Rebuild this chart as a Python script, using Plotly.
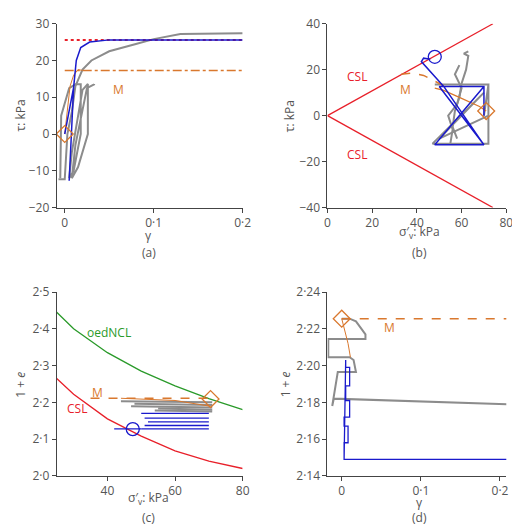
import plotly.graph_objects as go

GRAY = "#8c8c8c"; BLUE = "#1a1acc"; RED = "#e8202a"; ORANGE = "#d9782e"; GREEN = "#2a9a2a"; TXT = "#555555"

# (a) tau vs gamma
a_blue_g = [0.0, 0.01, 0.005, 0.01, 0.005, 0.01, 0.005, 0.01, 0.005, 0.01, 0.013, 0.018, 0.028, 0.05, 0.2]
a_blue_t = [0.0, 12.7, -12.7, 12.7, -12.7, 12.7, -12.7, 12.7, -12.7, 12.7, 20.0, 23.5, 25.0, 25.6, 25.6]
a_gray_g = [-0.005, -0.004, 0.005, 0.012, 0.018, 0.018, 0.01, 0.005, 0.008, 0.02, 0.026, 0.026, 0.015, 0.008, 0.012, 0.025, 0.033, 0.033, None,
            -0.007, 0.0, 0.003, 0.008, 0.012, 0.02, 0.03, 0.05, 0.08, 0.1, 0.13, 0.16, 0.2]
a_gray_t = [-12.0, 5.0, 12.5, 13.5, 13.5, 0.0, -10.0, -12.0, -5.0, 12.0, 13.6, 0.0, -9.0, -12.0, -3.0, 12.5, 13.5, 13.6, None,
            -12.3, -12.3, 0.0, 6.0, 13.0, 17.5, 20.0, 22.5, 24.5, 25.8, 27.2, 27.3, 27.4]
a_csl_g = [0.0, 0.2]; a_csl_t = [25.6, 25.6]
a_m_g = [0.0, 0.2]; a_m_t = [17.3, 17.3]
a_or_g = [0.0, 0.003, 0.006, 0.01, 0.015, 0.02]; a_or_t = [0.0, 6.0, 13.0, 16.0, 17.5, 17.3]

# (b) tau vs sigma'v
b_csl_s = [0.0, 74.0]; b_csl_t = [0.0, 40.0]
b_cslm_s = [0.0, 74.0]; b_cslm_t = [0.0, -40.0]
b_blue_s = [70, 70, 50, 70, 70, 48, 70, 48, 70, 70, 52, 70, 52, 48, 45, 42, 43, 46]
b_blue_t = [0, 12.7, 12.7, -12.7, -12.7, -12.7, 12.7, -12.7, 12.7, 12.7, 12.7, -12.7, 12.7, 17, 20.5, 23.5, 25, 24.5]
b_gray_s = [70, 72, 48, 72, 72, 47, 70, 50, 72, None, 58, 56, 57, 59, 60, 62, 63, 61, 63, None, 55, 56, 54, 58, 60, 57, 59]
b_gray_t = [0, 13.5, 13.5, 13.5, -12.2, -12.2, 10, -10, 0, None, -10, -5, 2, 8, 14, 20, 26, 27, 28, None, -12, -6, 0, 5, 12, 18, 22]
b_or_s = [71, 68, 60, 52, 48]; b_or_t = [2, 4, 7.5, 11, 12]
b_m_s = [33, 38, 43, 48, 52]; b_m_t = [18, 18.5, 17.5, 15, 13]

# (c) 1+e vs sigma'v
c_sig = [25, 30, 40, 50, 60, 70, 80]
c_ncl = [2.445, 2.400, 2.335, 2.285, 2.245, 2.210, 2.180]
c_csl = [2.265, 2.222, 2.155, 2.108, 2.068, 2.040, 2.020]
c_blue_lv = [2.170, 2.157, 2.147, 2.137, 2.128]
c_blue_x0 = [50, 51, 52, 51, 50]
c_gray_lv = [2.200, 2.193, 2.186, 2.180, 2.175]
c_gray_x0 = [44, 48, 47, 55, 54]
c_m_s = [35, 70]; c_m_e = [2.211, 2.211]

# (d) 1+e vs gamma
d_blue_g = [0.003, 0.003, 0.008, 0.008, 0.003, 0.003, 0.01, 0.01, 0.005, 0.005, 0.01, 0.01, 0.005, 0.005, 0.003, 0.21]
d_blue_e = [2.149, 2.158, 2.158, 2.167, 2.167, 2.172, 2.172, 2.181, 2.181, 2.189, 2.189, 2.199, 2.199, 2.203, 2.149, 2.149]
d_gray_g = [0.0, 0.01, 0.018, 0.03, 0.03, -0.017, -0.017, -0.01, 0.01, 0.015, 0.018, -0.005, -0.008, -0.012, -0.01, 0.21]
d_gray_e = [2.2255, 2.2255, 2.224, 2.217, 2.2145, 2.2145, 2.2045, 2.2045, 2.2045, 2.203, 2.1965, 2.1965, 2.188, 2.178, 2.182, 2.179]
d_m_g = [0.0, 0.21]; d_m_e = [2.2255, 2.2255]
d_or_g = [0.0, 0.008, 0.011]; d_or_e = [2.2255, 2.212, 2.2045]

fig = go.Figure()
def ln(x, y, ax, color, w=1.3, dash=None):
    fig.add_trace(go.Scatter(x=x, y=y, xaxis="x" + ax, yaxis="y" + ax, mode="lines",
                             line=dict(color=color, width=w, dash=dash), showlegend=False))
def mk(x, y, ax, color, sym, size):
    fig.add_trace(go.Scatter(x=x, y=y, xaxis="x" + ax, yaxis="y" + ax, mode="markers",
                             marker=dict(symbol=sym, size=size, color=color, line=dict(color=color, width=1.3)), showlegend=False))

ln(a_gray_g, a_gray_t, "1", GRAY, 2)
ln(a_csl_g, a_csl_t, "1", RED, 2, "dot")
ln(a_m_g, a_m_t, "1", ORANGE, 1.5, "dashdot")
ln(a_or_g, a_or_t, "1", ORANGE, 1)
ln(a_blue_g, a_blue_t, "1", BLUE, 1.5)
mk([0.0], [0.0], "1", ORANGE, "diamond-open", 13)

ln(b_csl_s, b_csl_t, "2", RED); ln(b_cslm_s, b_cslm_t, "2", RED)
ln(b_gray_s, b_gray_t, "2", GRAY, 2)
ln(b_m_s, b_m_t, "2", ORANGE, 1.5, "dash")
ln(b_or_s, b_or_t, "2", ORANGE, 1.2)
ln(b_blue_s, b_blue_t, "2", BLUE, 1.5)
mk([48], [25.6], "2", BLUE, "circle-open", 13)
mk([71], [2], "2", ORANGE, "diamond-open", 13)

ln(c_sig, c_ncl, "3", GREEN); ln(c_sig, c_csl, "3", RED)
for v, x0 in zip(c_gray_lv, c_gray_x0):
    ln([x0, 71], [v + 0.003, v], "3", GRAY, 2)
for v, x0 in zip(c_blue_lv, c_blue_x0):
    ln([x0, 70], [v, v], "3", BLUE, 1.3)
ln([42, 50], [2.128, 2.128], "3", BLUE, 1.3)
ln(c_m_s, c_m_e, "3", ORANGE, 1.5, "dash")
ln([44, 60, 70], [2.211, 2.205, 2.19], "3", ORANGE, 1)
mk([47.5], [2.127], "3", BLUE, "circle-open", 13)
mk([70.5], [2.209], "3", ORANGE, "diamond-open", 13)

ln(d_gray_g, d_gray_e, "4", GRAY, 2)
ln(d_blue_g, d_blue_e, "4", BLUE, 1.3)
ln(d_m_g, d_m_e, "4", ORANGE, 1.5, "dash")
ln(d_or_g, d_or_e, "4", ORANGE, 1)
mk([0.0], [2.2255], "4", ORANGE, "diamond-open", 13)

F = dict(family="Open Sans", size=12, color=TXT)
def axis(rng, dom, anchor, tickvals, ticktext):
    return dict(range=rng, domain=dom, anchor=anchor, showgrid=False, zeroline=False, showline=True,
                linecolor="#444", linewidth=1, ticks="outside", ticklen=4, tickcolor="#444",
                tickvals=tickvals, ticktext=ticktext, tickfont=F)
xa = [0.090, 0.456]; xb = [0.623, 0.975]
ya = [0.630, 0.987]; yc = [0.109, 0.466]
fig.update_layout(
    width=520, height=532, margin=dict(l=0, r=0, t=0, b=0), paper_bgcolor="white", plot_bgcolor="white",
    font=F,
    xaxis1=axis([-0.009, 0.2], xa, "y1", [0, 0.1, 0.2], ["0", "0·1", "0·2"]),
    yaxis1=axis([-20, 30], ya, "x1", [-20, -10, 0, 10, 20, 30], ["−20", "−10", "0", "10", "20", "30"]),
    xaxis2=axis([0, 80], xb, "y2", [0, 20, 40, 60, 80], None),
    yaxis2=axis([-40, 40], ya, "x2", [-40, -20, 0, 20, 40], ["−40", "−20", "0", "20", "40"]),
    xaxis3=axis([25, 80], xa, "y3", [40, 60, 80], None),
    yaxis3=axis([2.0, 2.5], yc, "x3", [2.0, 2.1, 2.2, 2.3, 2.4, 2.5], ["2·0", "2·1", "2·2", "2·3", "2·4", "2·5"]),
    xaxis4=axis([-0.018, 0.208], xb, "y4", [0, 0.1, 0.2], ["0", "0·1", "0·2"]),
    yaxis4=axis([2.14, 2.24], yc, "x4", [2.14, 2.16, 2.18, 2.20, 2.22, 2.24], ["2·14", "2·16", "2·18", "2·20", "2·22", "2·24"]),
)
ann = [("x1", "y1", 0.061, 12, "M", ORANGE), ("x2", "y2", 13, 17, "CSL", RED), ("x2", "y2", 13, -17, "CSL", RED),
       ("x2", "y2", 35, 11.5, "M", ORANGE), ("x3", "y3", 40.5, 2.39, "oedNCL", GREEN), ("x3", "y3", 31, 2.182, "CSL", RED),
       ("x3", "y3", 37, 2.226, "M", ORANGE), ("x4", "y4", 0.06, 2.2205, "M", ORANGE)]
for xr, yr, x, y, t, c in ann:
    fig.add_annotation(xref=xr, yref=yr, x=x, y=y, text=t, showarrow=False, font=dict(family="Open Sans", size=12, color=c))
sv = "σ′<sub>v</sub>: kPa"
texts = [(141, 226, "γ", 0), (418, 222, sv, 0), (141, 497, sv, 0), (418, 502, "γ", 0),
         (141, 243, "(a)", 0), (418, 243, "(b)", 0), (141, 517, "(c)", 0), (418, 517, "(d)", 0),
         (10, 102, "τ: kPa", -90), (285, 102, "τ: kPa", -90), (10, 380, "1 + <i>e</i>", -90), (281, 380, "1 + <i>e</i>", -90)]
for px, py, t, ang in texts:
    fig.add_annotation(xref="paper", yref="paper", x=px / 520, y=1 - py / 532, text=t, showarrow=False,
                       font=F, textangle=ang, xanchor="center", yanchor="middle")
fig.write_html("out.html")
